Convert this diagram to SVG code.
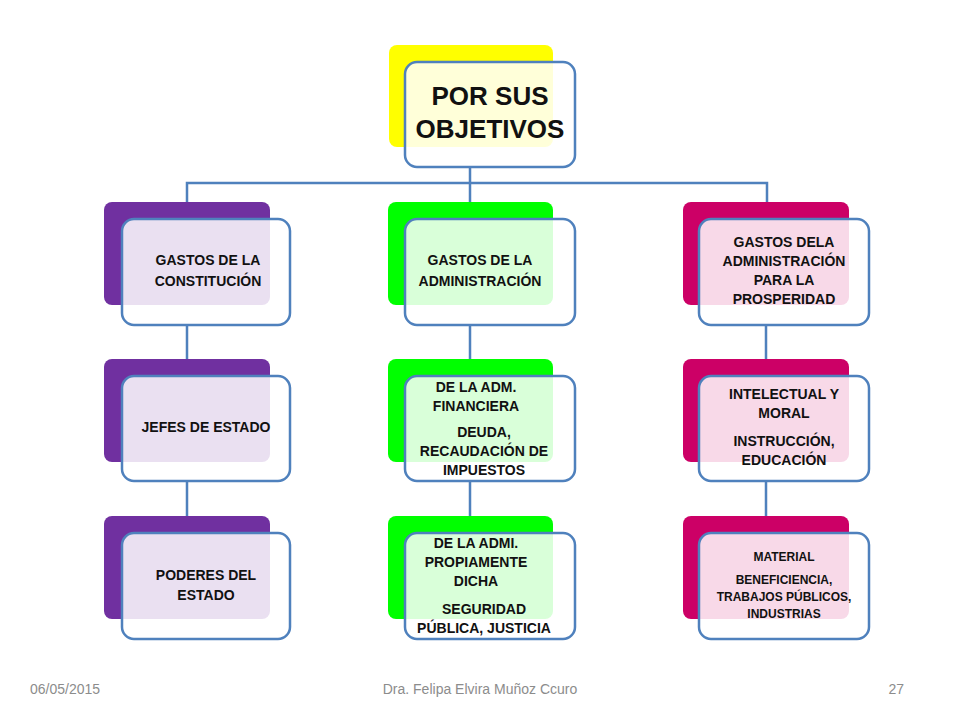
<svg xmlns="http://www.w3.org/2000/svg" width="960" height="720" viewBox="0 0 960 720">
<style>
.f{fill:#fff;fill-opacity:0.85;stroke:#4f81bd;stroke-width:2.5}
.t{font-family:"Liberation Sans",Arial,sans-serif;font-weight:bold;font-size:14px;fill:#111;text-anchor:middle}
.s{font-size:12px}
.c{stroke:#4f81bd;stroke-width:2.5;fill:none}
.ft{font-family:"Liberation Sans",Arial,sans-serif;font-size:14px;fill:#8c8c8c}
</style>
<rect width="960" height="720" fill="#fff"/>
<g id="connectors">
<path class="c" d="M470 167V183M187 202V183H767V202M470 183V202"/>
<path class="c" d="M187 325V359M187 481V516M766 325V359M766 481V516M470 325V359M470 481V516" stroke="#a9bde0"/>
</g>
<g id="root"><rect x="389" y="45" width="164" height="102" rx="8" fill="#ffff00"/><rect class="f" x="405" y="62" width="170" height="105" rx="12"/>
<text class="t" style="font-size:26px" x="490" y="105">POR SUS</text><text class="t" style="font-size:26px" x="490" y="138">OBJETIVOS</text></g>
<g id="c1"><rect x="104" y="202" width="166" height="103" rx="8" fill="#7030a0"/><rect class="f" x="122" y="219" width="168" height="106" rx="12"/>
<text class="t" x="208" y="265">GASTOS DE LA</text><text class="t" x="208" y="286">CONSTITUCIÓN</text></g>
<g id="c2"><rect x="104" y="359" width="166" height="103" rx="8" fill="#7030a0"/><rect class="f" x="122" y="376" width="168" height="105" rx="12"/>
<text class="t" x="206" y="432">JEFES DE ESTADO</text></g>
<g id="c3"><rect x="104" y="516" width="166" height="103" rx="8" fill="#7030a0"/><rect class="f" x="122" y="533" width="168" height="106" rx="12"/>
<text class="t" x="206" y="580">PODERES DEL</text><text class="t" x="206" y="600">ESTADO</text></g>
<g id="m1"><rect x="388" y="202" width="165" height="103" rx="8" fill="#00ff00"/><rect class="f" x="405" y="219" width="170" height="106" rx="12"/>
<text class="t" x="480" y="265">GASTOS DE LA</text><text class="t" x="480" y="286">ADMINISTRACIÓN</text></g>
<g id="m2"><rect x="388" y="359" width="165" height="103" rx="8" fill="#00ff00"/><rect class="f" x="405" y="376" width="170" height="105" rx="12"/>
<text class="t" x="476" y="392">DE LA ADM.</text><text class="t" x="476" y="411">FINANCIERA</text><text class="t" x="484" y="437">DEUDA,</text><text class="t" x="484" y="456">RECAUDACIÓN DE</text><text class="t" x="484" y="475">IMPUESTOS</text></g>
<g id="m3"><rect x="388" y="516" width="165" height="103" rx="8" fill="#00ff00"/><rect class="f" x="405" y="533" width="170" height="106" rx="12"/>
<text class="t" x="476" y="548">DE LA ADMI.</text><text class="t" x="476" y="567">PROPIAMENTE</text><text class="t" x="476" y="586">DICHA</text><text class="t" x="484" y="614">SEGURIDAD</text><text class="t" x="484" y="633">PÚBLICA, JUSTICIA</text></g>
<g id="r1"><rect x="683" y="202" width="166" height="103" rx="8" fill="#cc0066"/><rect class="f" x="699" y="219" width="170" height="106" rx="12"/>
<text class="t" x="784" y="247">GASTOS DELA</text><text class="t" x="784" y="266">ADMINISTRACIÓN</text><text class="t" x="784" y="285">PARA LA</text><text class="t" x="784" y="304">PROSPERIDAD</text></g>
<g id="r2"><rect x="683" y="359" width="166" height="103" rx="8" fill="#cc0066"/><rect class="f" x="699" y="376" width="170" height="105" rx="12"/>
<text class="t" x="784" y="399">INTELECTUAL Y</text><text class="t" x="784" y="418">MORAL</text><text class="t" x="784" y="446">INSTRUCCIÓN,</text><text class="t" x="784" y="465">EDUCACIÓN</text></g>
<g id="r3"><rect x="683" y="516" width="166" height="103" rx="8" fill="#cc0066"/><rect class="f" x="699" y="533" width="170" height="106" rx="12"/>
<text class="t s" x="784" y="561">MATERIAL</text><text class="t s" x="784" y="584">BENEFICIENCIA,</text><text class="t s" x="784" y="601">TRABAJOS PÚBLICOS,</text><text class="t s" x="784" y="618">INDUSTRIAS</text></g>
<text class="ft" x="30" y="694">06/05/2015</text>
<text class="ft" x="480" y="694" text-anchor="middle">Dra. Felipa  Elvira Muñoz Ccuro</text>
<text class="ft" x="904" y="694" text-anchor="end">27</text>
</svg>
